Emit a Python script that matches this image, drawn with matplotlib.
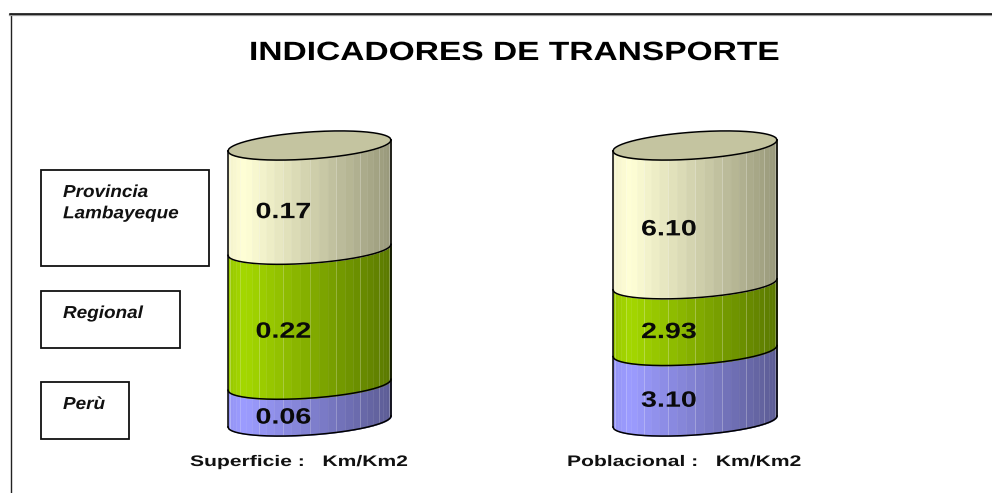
import numpy as np
import matplotlib
matplotlib.use("Agg")
import matplotlib.pyplot as plt
from matplotlib.colors import to_rgb
from matplotlib.patches import Rectangle
from matplotlib.patheffects import AbstractPathEffect
from matplotlib.transforms import Affine2D

# === data ===
title = "INDICADORES DE TRANSPORTE"
levels = ["Perù", "Regional", "Provincia\nLambayeque"]
superficie = [0.06, 0.22, 0.17]
poblacional = [3.10, 2.93, 6.10]
superficie_label = "Superficie :   Km/Km2"
poblacional_label = "Poblacional :   Km/Km2"

W, H = 992, 493
FONT = "Liberation Sans"

# left, peak, right shade for each stack level
shades = [
    ("#9494f4", "#9c9cff", "#5c5c94"),
    ("#98c800", "#a4d800", "#5a7800"),
    ("#f4f2cc", "#ffffd6", "#98987a"),
]
top_color = "#c4c4a0"


class Wide(AbstractPathEffect):
    # the source text is a wide stretched Arial, so widen the glyphs
    def __init__(self, sx):
        self.sx = sx

    def draw_path(self, renderer, gc, tpath, affine, rgbFace=None):
        renderer.draw_path(gc, tpath, Affine2D().scale(self.sx, 1) + affine, rgbFace)


fig = plt.figure(figsize=(W / 100, H / 100), dpi=100, facecolor="white")


def px_axes(x0, x1, y0, y1):
    # axes placed with pixel positions measured from the top left
    return fig.add_axes([x0 / W, 1 - y1 / H, (x1 - x0) / W, (y1 - y0) / H])


# page axes for frame, title and legend boxes
page = px_axes(0, W, 0, H)
page.set_xlim(0, W)
page.set_ylim(H, 0)
page.axis("off")
page.plot([10.5, 10.5], [14, H], color="#222222", lw=1.0)
page.plot([10, W], [14.5, 14.5], color="#999999", lw=1.6)
page.plot([10, W], [14, 14], color="black", lw=1.1)
page.text(249, 53, title, ha="left", va="center", fontsize=19,
          fontweight="bold", family=FONT, path_effects=[Wide(1.27)])

boxes = [(41, 382, 88, 57), (41, 291, 139, 57), (41, 170, 168, 96)]
for (x, y, w, h), name in zip(boxes, levels):
    page.add_patch(Rectangle((x, y), w, h, fc="white", ec="#111111", lw=1.3))
    page.text(63, y + 15, name, ha="left", va="top", fontsize=12.5, fontweight="bold",
              fontstyle="italic", family=FONT, linespacing=1.52, color="#111111",
              path_effects=[Wide(1.09)])


def shade(c, t):
    left, peak, right = [np.array(to_rgb(k)) for k in c]
    if t < 0.1:
        return left + (peak - left) * t / 0.1
    return peak + (right - peak) * (t - 0.1) / 0.9


def edge(x, level, b, tilt, front=True):
    # height of the tilted ellipse rim over x in -1..1, in value units
    s = np.sqrt(np.clip(1 - x ** 2, 0, 1))
    return level + tilt * x + (-b * s if front else b * s)


def cylinder(x0, x1, y_top, y_bottom, values, label, label_x):
    # y runs in value units, the stack height is set by its total
    total = sum(values)
    ax = px_axes(x0 - 4, x1 + 4, y_top - 30, y_bottom + 20)
    px = total / (y_bottom - y_top)
    half = (x1 - x0) / 2
    ax.set_xlim(-(half + 4) / half, (half + 4) / half)
    ax.set_ylim(-20 * px, total + 30 * px)
    ax.axis("off")
    b, tilt = 13.5 * px, 5.5 * px

    xs = np.cos(np.linspace(np.pi, 0, 29))
    base = 0
    for i, v in enumerate(values):
        top = base + v
        for k in range(len(xs) - 1):
            xx = np.linspace(xs[k], xs[k + 1], 8)
            t = (xs[k] + xs[k + 1]) / 4 + 0.5
            ax.fill_between(xx, edge(xx, base, b, tilt), edge(xx, top, b, tilt),
                            color=shade(shades[i], t), lw=0.3)
            if k % 3 == 1:
                ax.plot([xs[k + 1]] * 2, [edge(xs[k + 1], base, b, tilt), edge(xs[k + 1], top, b, tilt)],
                        color="white", alpha=0.25, lw=0.6)
        xx = np.linspace(-1, 1, 200)
        ax.plot(xx, edge(xx, base, b, tilt), color="black", lw=1.1)
        ax.text(-54 / half, base + v / 2 - b - 1.5 * px, f"{v:.2f}", ha="left", va="center", fontsize=16,
                fontweight="bold", family=FONT, color="#0a0a0a", path_effects=[Wide(1.29)])
        base = top

    # top disc and silhouette
    xx = np.linspace(-1, 1, 200)
    ax.fill_between(xx, edge(xx, total, b, tilt), edge(xx, total, b, tilt, front=False),
                    color=top_color, lw=0)
    ax.plot(xx, edge(xx, total, b, tilt), color="black", lw=1.1)
    ax.plot(xx, edge(xx, total, b, tilt, front=False), color="black", lw=1.1)
    ax.plot([-1, -1], [-tilt, total - tilt], color="black", lw=1.1)
    ax.plot([1, 1], [tilt, total + tilt], color="black", lw=1.1)
    page.text(label_x, 462, label, ha="left", va="center", fontsize=11,
              fontweight="bold", family=FONT, color="#111111", path_effects=[Wide(1.38)])


cylinder(228, 391, 145.5, 421.5, superficie, superficie_label, 190)
cylinder(613, 777, 145.5, 421.5, poblacional, poblacional_label, 567)

fig.savefig("out.png", dpi=100)
